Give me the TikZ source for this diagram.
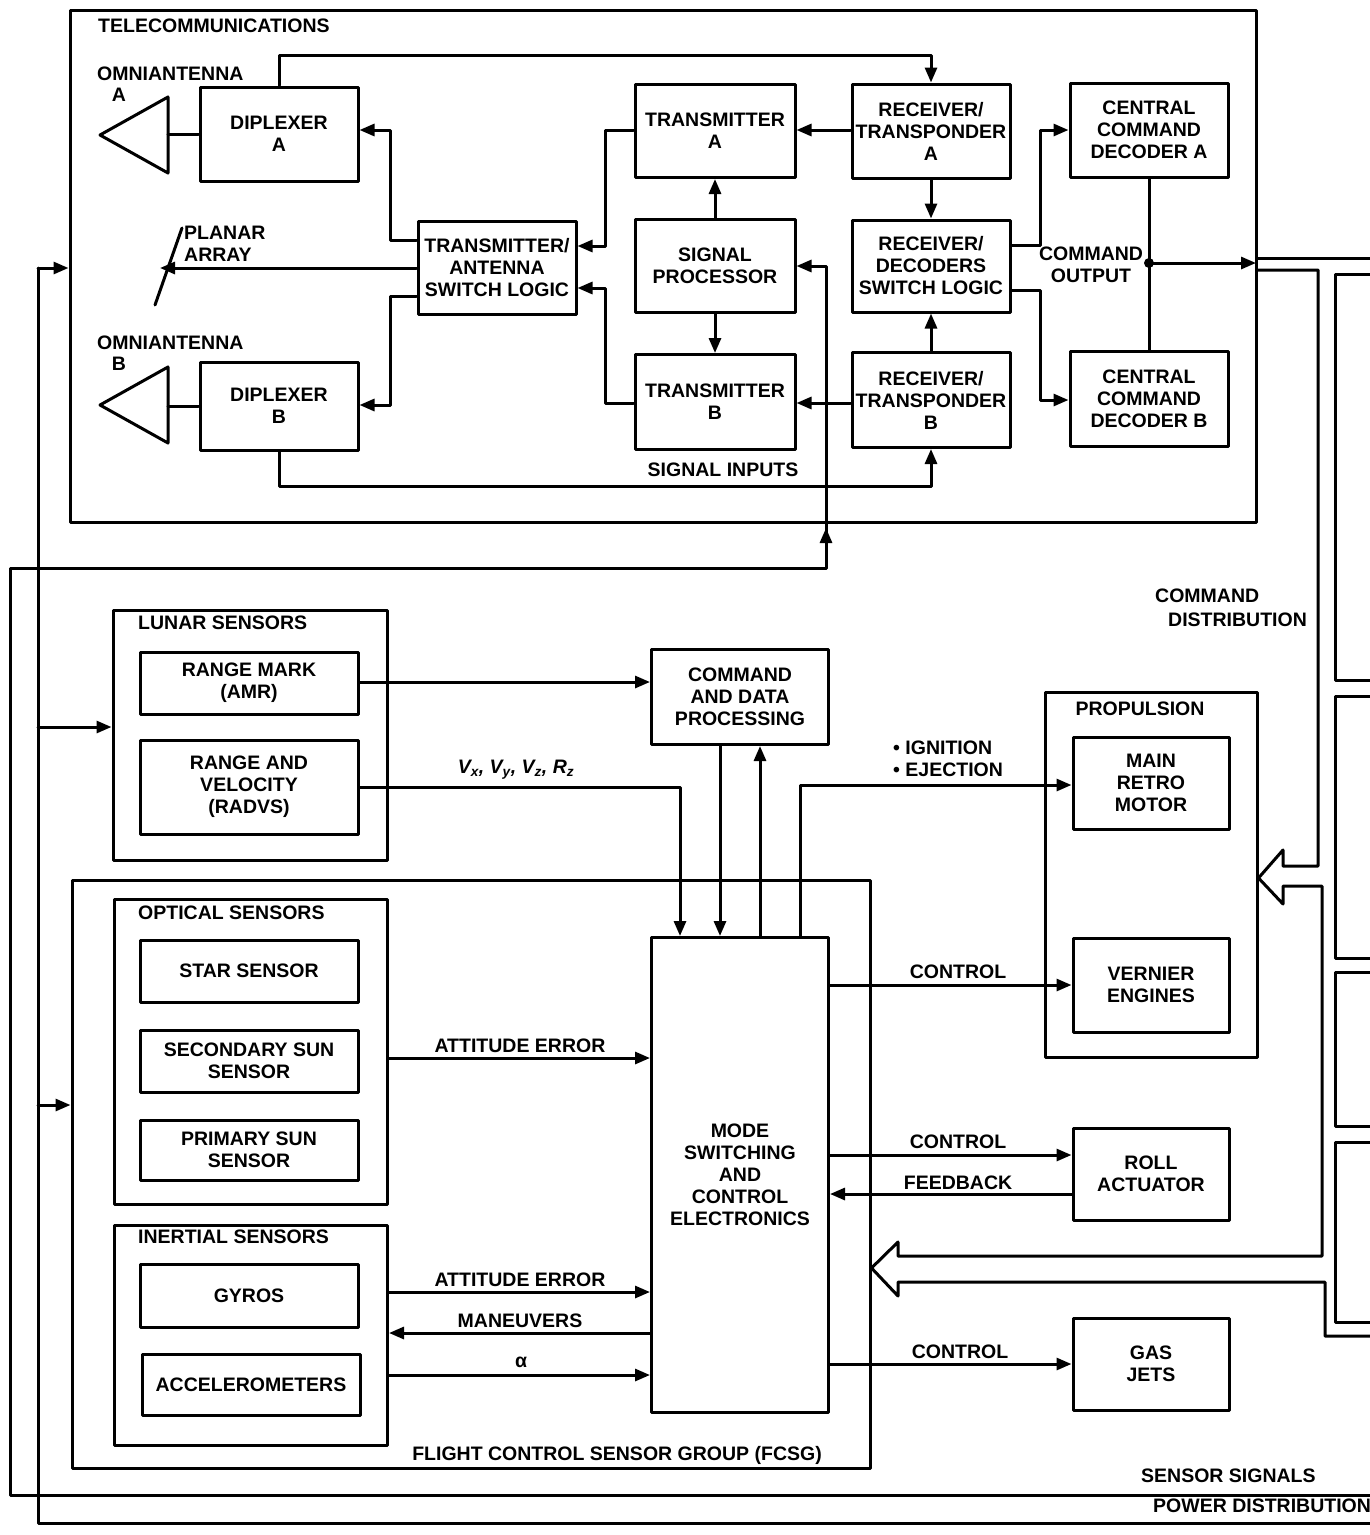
\documentclass[tikz,border=0pt]{standalone}
\usepackage{fontspec}
\setmainfont{Liberation Sans}
\usetikzlibrary{arrows.meta}
\begin{document}
\begin{tikzpicture}[x=1pt,y=-1pt,
  ln/.style={line width=3pt,line cap=round,line join=round},
  box/.style={ln,draw,align=center,inner sep=0pt,font=\bfseries\fontsize{19.5}{22}\selectfont},
  frame/.style={ln,draw,inner sep=0pt},
  lab/.style={font=\bfseries\fontsize{19.5}{22}\selectfont,inner sep=0pt,align=center},
  arr/.style={ln,-{Triangle[length=15pt,width=12pt]}}]
\useasboundingbox (0,0) rectangle (1370,1535);
% ---------- telecom ----------
\node[frame,minimum width=1186,minimum height=512] (tel) at (663,266) {};
\node[lab,anchor=west] (telt) at (98,26) {TELECOMMUNICATIONS};
\node[box,minimum width=158,minimum height=94] (dipA) at (279,134) {DIPLEXER\\A};
\node[box,minimum width=158,minimum height=88] (dipB) at (279,406) {DIPLEXER\\B};
\node[box,minimum width=158,minimum height=93] (tasl) at (497,268) {TRANSMITTER/\\ANTENNA\\SWITCH LOGIC};
\node[box,minimum width=160,minimum height=93] (txA) at (715,131) {TRANSMITTER\\A};
\node[box,minimum width=160,minimum height=93] (sp) at (715,266) {SIGNAL\\PROCESSOR};
\node[box,minimum width=160,minimum height=95] (txB) at (715,402) {TRANSMITTER\\B};
\node[box,minimum width=158,minimum height=94] (rtA) at (931,131) {RECEIVER/\\TRANSPONDER\\A};
\node[box,minimum width=158,minimum height=92] (rdsl) at (931,266) {RECEIVER/\\DECODERS\\SWITCH LOGIC};
\node[box,minimum width=158,minimum height=95] (rtB) at (931,400) {RECEIVER/\\TRANSPONDER\\B};
\node[box,minimum width=158,minimum height=94] (ccdA) at (1149,130) {CENTRAL\\COMMAND\\DECODER A};
\node[box,minimum width=158,minimum height=95] (ccdB) at (1149,399) {CENTRAL\\COMMAND\\DECODER B};
% antennas
\draw[ln] (168,97) -- (100,135) -- (168,173) -- cycle;
\draw[ln] (168,367) -- (100,405) -- (168,443) -- cycle;
\coordinate (omA) at (168,134);
\coordinate (omB) at (168,406);
\draw[ln] (dipA.west) -- (omA);
\draw[ln] (dipB.west) -- (omB);
\node[lab,anchor=west] (omAl) at (97,74) {OMNIANTENNA};
\node[lab] (omAl2) at (119,95) {A};
\node[lab,anchor=west] (omBl) at (97,343) {OMNIANTENNA};
\node[lab] (omBl2) at (119,364) {B};
\draw[ln] (155,305) -- (182,228);
\node[lab,anchor=north west,align=left] (pal) at (184,226) {PLANAR\\ARRAY};
\coordinate (pa) at (160,268);
\draw[arr] (tasl.west) -- (pa);
% telecom connections
\draw[arr] (dipA.north) -- (279,55) -- (931,55) -- (rtA.north);
\draw[arr] (dipB.south) -- (279,486) -- (931,486) -- (rtB.south);
\node[lab] (sil) at (723,470) {SIGNAL INPUTS};
\draw[arr] (tasl.west |- 0,240) -- (390,240) -- (390,130) -- (dipA.east |- 0,130);
\draw[arr] (tasl.west |- 0,296) -- (390,296) -- (390,405) -- (dipB.east |- 0,405);
\draw[arr] (txA.west |- 0,130) -- (605,130) -- (605,246) -- (tasl.east |- 0,246);
\draw[arr] (txB.west |- 0,403) -- (605,403) -- (605,288) -- (tasl.east |- 0,288);
\draw[arr] (sp.north) -- (txA.south);
\draw[arr] (sp.south) -- (txB.north);
\draw[arr] (rtA.west |- 0,130) -- (txA.east |- 0,130);
\draw[arr] (rtB.west |- 0,403) -- (txB.east |- 0,403);
\draw[arr] (rtA.south) -- (rdsl.north);
\draw[arr] (rtB.north) -- (rdsl.south);
\draw[arr] (rdsl.east |- 0,245) -- (1040,245) -- (1040,130) -- (ccdA.west |- 0,130);
\draw[arr] (rdsl.east |- 0,290) -- (1040,290) -- (1040,400) -- (ccdB.west |- 0,400);
\node[lab] (col) at (1091,265) {COMMAND\\OUTPUT};
\draw[ln] (ccdA.south) -- (ccdB.north);
\coordinate (cdot) at (1149,263);
\fill (cdot) circle (5pt);
\coordinate (cout) at (1256,263);
\draw[arr] (cdot) -- (cout);
% ---------- left buses ----------
\draw[arr] (1380,1495) -- (10,1495) -- (10,568) -- (826,568) -- (826,266) -- (sp.east);
\draw[arr] (826,548) -- (826,528);
\draw[ln] (1380,1523) -- (38,1523) -- (38,268);
\draw[arr] (38,268) -- (tel.west |- 0,268);
\node[lab,anchor=west] (ssl) at (1141,1476) {SENSOR SIGNALS};
\node[lab,anchor=west] (pdl) at (1153,1506) {POWER DISTRIBUTION};
% ---------- lunar ----------
\node[frame,minimum width=274,minimum height=250] (lunar) at (250,735) {};
\node[lab,anchor=west] (lunt) at (138,623) {LUNAR SENSORS};
\node[box,minimum width=218,minimum height=62] (amr) at (249,683) {RANGE MARK\\(AMR)};
\node[box,minimum width=218,minimum height=94] (radvs) at (249,787) {RANGE AND\\VELOCITY\\(RADVS)};
\draw[arr] (38,727) -- (lunar.west |- 0,727);
\node[box,minimum width=177,minimum height=95] (cdp) at (740,697) {COMMAND\\AND DATA\\PROCESSING};
\node[box,minimum width=177,minimum height=475] (msce) at (740,1175) {MODE\\SWITCHING\\AND\\CONTROL\\ELECTRONICS};
\draw[arr] (amr.east |- 0,682) -- (cdp.west |- 0,682);
\coordinate (vk) at (680,787);
\draw[arr] (radvs.east) -- (vk) -- (vk |- msce.north);
\node[lab] (vl) at (516,770) {\itshape V\textsubscript{x}, V\textsubscript{y}, V\textsubscript{z}, R\textsubscript{z}};
\coordinate (d1) at (720,0);
\coordinate (d2) at (760,0);
\coordinate (d3) at (800,785);
\draw[arr] (d1 |- cdp.south) -- (d1 |- msce.north);
\draw[arr] (d2 |- msce.north) -- (d2 |- cdp.south);
% ---------- propulsion ----------
\node[frame,minimum width=212,minimum height=365] (prop) at (1151,875) {};
\node[lab] (propt) at (1140,709) {PROPULSION};
\node[box,minimum width=156,minimum height=92] (mrm) at (1151,783) {MAIN\\RETRO\\MOTOR};
\node[box,minimum width=156,minimum height=94] (vern) at (1151,985) {VERNIER\\ENGINES};
\node[box,minimum width=156,minimum height=92] (roll) at (1151,1174) {ROLL\\ACTUATOR};
\node[box,minimum width=156,minimum height=92] (gas) at (1151,1364) {GAS\\JETS};
\draw[arr] (d3 |- msce.north) -- (d3) -- (mrm.west |- d3);
\node[lab,anchor=west] (ign) at (893,748) {\textbullet\ IGNITION};
\node[lab,anchor=west] (eje) at (893,770) {\textbullet\ EJECTION};
\draw[arr] (msce.east |- 0,985) -- (vern.west);
\node[lab] (c1) at (958,972) {CONTROL};
\draw[arr] (msce.east |- 0,1155) -- (roll.west |- 0,1155);
\node[lab] (c2) at (958,1142) {CONTROL};
\draw[arr] (roll.west |- 0,1194) -- (msce.east |- 0,1194);
\node[lab] (fb) at (958,1183) {FEEDBACK};
\draw[arr] (msce.east |- 0,1364) -- (gas.west);
\node[lab] (c3) at (960,1352) {CONTROL};
% ---------- FCSG ----------
\node[frame,minimum width=798,minimum height=588] (fcsg) at (471,1174) {};
\node[lab] (fcsgt) at (617,1455) {FLIGHT CONTROL SENSOR GROUP (FCSG)};
\draw[arr] (38,1105) -- (fcsg.west |- 0,1105);
\node[frame,minimum width=273,minimum height=305] (opt) at (251,1052) {};
\node[lab,anchor=west] (optt) at (138,913) {OPTICAL SENSORS};
\node[box,minimum width=218,minimum height=62] (star) at (249,971) {STAR SENSOR};
\node[box,minimum width=218,minimum height=62] (ssun) at (249,1061) {SECONDARY SUN\\SENSOR};
\node[box,minimum width=218,minimum height=60] (psun) at (249,1150) {PRIMARY SUN\\SENSOR};
\draw[arr] (opt.east |- 0,1058) -- (msce.west |- 0,1058);
\node[lab] (ae1) at (520,1046) {ATTITUDE ERROR};
\node[frame,minimum width=273,minimum height=220] (iner) at (251,1335) {};
\node[lab,anchor=west] (inert) at (138,1237) {INERTIAL SENSORS};
\node[box,minimum width=218,minimum height=63] (gyro) at (249,1296) {GYROS};
\node[box,minimum width=218,minimum height=61] (acc) at (251,1385) {ACCELEROMETERS};
\draw[arr] (iner.east |- 0,1292) -- (msce.west |- 0,1292);
\node[lab] (ae2) at (520,1280) {ATTITUDE ERROR};
\draw[arr] (msce.west |- 0,1333) -- (iner.east |- 0,1333);
\node[lab] (man) at (520,1321) {MANEUVERS};
\draw[arr] (iner.east |- 0,1375) -- (msce.west |- 0,1375);
\node[lab] (al) at (521,1362) {α};
% ---------- command distribution ----------
\draw[ln] (1258,258) -- (1380,258);
\draw[ln] (1258,270) -- (1318,270) -- (1318,866) -- (1283,866) -- (1283,850)
  -- (prop.east |- 0,878) -- (1283,904) -- (1283,886) -- (1322,886) -- (1322,1256)
  -- (898,1256) -- (898,1242) -- (fcsg.east |- 0,1268) -- (898,1296) -- (898,1282)
  -- (1325,1282) -- (1325,1336) -- (1380,1336);
\node[lab,anchor=west] (cdl1) at (1155,596) {COMMAND};
\node[lab,anchor=west] (cdl2) at (1168,620) {DISTRIBUTION};
\draw[ln] (1380,274) -- (1335,274) -- (1335,680) -- (1380,680);
\draw[ln] (1380,696) -- (1335,696) -- (1335,958) -- (1380,958);
\draw[ln] (1380,972) -- (1335,972) -- (1335,1126) -- (1380,1126);
\draw[ln] (1380,1142) -- (1335,1142) -- (1335,1322) -- (1380,1322);
\end{tikzpicture}
\end{document}
